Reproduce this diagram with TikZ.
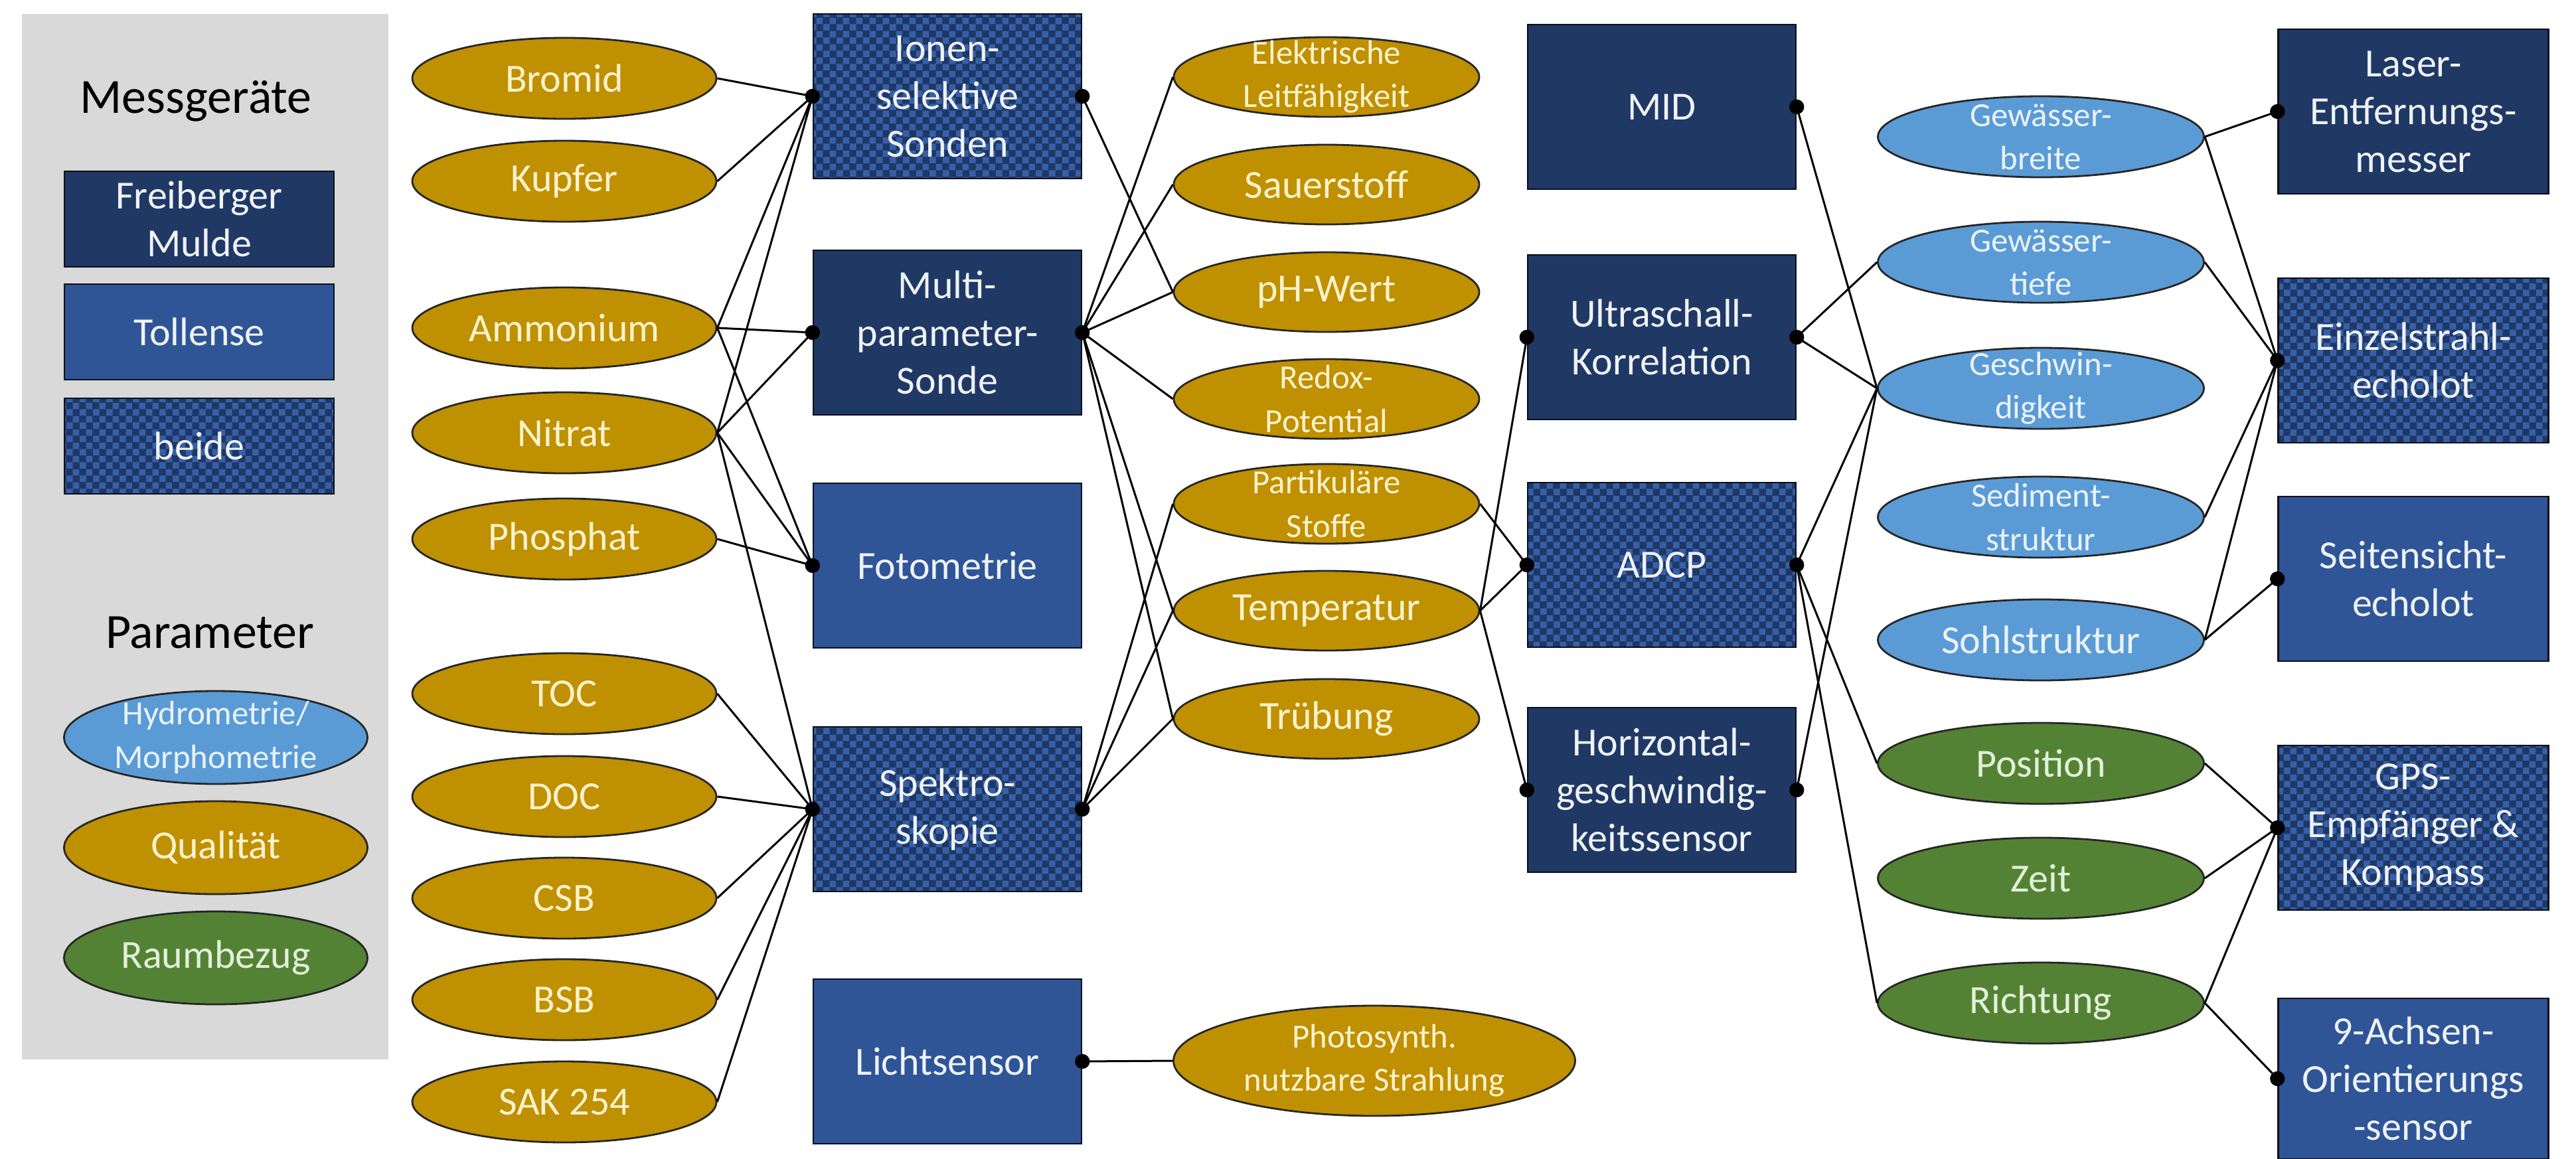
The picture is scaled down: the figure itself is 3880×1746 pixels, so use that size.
\documentclass[tikz,border=0pt]{standalone}
\usepackage{fontspec}
\setmainfont{Carlito}
\usetikzlibrary{shapes.geometric,patterns}
\pgfdeclarepatternformonly{chk}{\pgfpointorigin}{\pgfpoint{5pt}{5pt}}{\pgfpoint{5pt}{5pt}}{%
  \pgfpathrectangle{\pgfpointorigin}{\pgfpoint{2.5pt}{2.5pt}}%
  \pgfpathrectangle{\pgfpoint{2.5pt}{2.5pt}}{\pgfpoint{2.5pt}{2.5pt}}%
  \pgfusepath{fill}}
\definecolor{navy}{HTML}{203864}
\definecolor{tblue}{HTML}{2F5597}
\definecolor{chkA}{HTML}{1F3766}
\definecolor{chkB}{HTML}{3660A6}
\definecolor{gold}{HTML}{BF9000}
\definecolor{goldtxt}{HTML}{FFF2CC}
\definecolor{lblue}{HTML}{5B9BD5}
\definecolor{lbluetxt}{HTML}{E9F2FB}
\definecolor{grn}{HTML}{548235}
\definecolor{grntxt}{HTML}{E2F0D9}
\definecolor{legendgray}{HTML}{D9D9D9}
\definecolor{boxtxt}{HTML}{EEF2F9}
\tikzset{
  box/.style={draw=black!75!navy, line width=0.6pt, minimum width=101pt, minimum height=62pt,
    inner sep=0pt, align=center, text=boxtxt, font=\fontsize{15}{18}\selectfont},
  fm/.style={box, fill=navy},
  tol/.style={box, fill=tblue},
  both/.style={box, preaction={fill=chkA}, pattern=chk, pattern color=chkB},
  par/.style={ellipse, draw=black!85, line width=0.7pt, minimum width=114.5pt, minimum height=30.5pt, inner sep=0pt},
  qual/.style={par, fill=gold},
  hyd/.style={par, fill=lblue},
  raum/.style={par, fill=grn},
  ql/.style={align=center, text=goldtxt, font=\fontsize{15}{18}\selectfont},
  qs/.style={align=center, text=goldtxt, font=\fontsize{12.7}{16.3}\selectfont},
  hl/.style={align=center, text=lbluetxt, font=\fontsize{15}{18}\selectfont},
  hs/.style={align=center, text=lbluetxt, font=\fontsize{12.7}{16.3}\selectfont},
  rl/.style={align=center, text=grntxt, font=\fontsize{15}{18}\selectfont},
  head/.style={font=\fontsize{18.5}{22}\selectfont, text=black},
  link/.style={draw=black, line width=0.75pt},
}
\begin{document}
\begin{tikzpicture}[x=0.25pt, y=-0.25pt]
\useasboundingbox (0,0) rectangle (3880,1746);
\fill[white] (0,0) rectangle (3880,1746);
% legend
\fill[legendgray] (33,21) rectangle (585,1596);
\node[head] (hmess) at (295,152) {Messgeräte};
\node[fm, minimum width=101.5pt, minimum height=36pt] (lgfm) at (300,330) {Freiberger\\Mulde};
\node[tol, minimum width=101.5pt, minimum height=36pt] (lgtol) at (300,500) {Tollense};
\node[both, minimum width=101.5pt, minimum height=36pt] (lgboth) at (300,672) {beide};
\node[head] (hpar) at (316,953) {Parameter};
\node[hyd, minimum width=114.25pt, minimum height=35pt, label={[hs]center:{Hydrometrie/\\Morphometrie}}] (lghyd) at (325,1111) {};
\node[qual, minimum width=114.25pt, minimum height=35pt, label={[ql]center:Qualität}] (lgqual) at (325,1277) {};
\node[raum, minimum width=114.25pt, minimum height=35pt, label={[rl]center:Raumbezug}] (lgraum) at (325,1443) {};
% column 1
\node[qual, label={[ql]center:Bromid}] (bromid) at (850,118) {};
\node[qual, label={[ql]center:Kupfer}] (kupfer) at (850,273) {};
\node[qual, label={[ql]center:Ammonium}] (ammon) at (850,494) {};
\node[qual, label={[ql]center:Nitrat}] (nitrat) at (850,652) {};
\node[qual, label={[ql]center:Phosphat}] (phos) at (850,812) {};
\node[qual, label={[ql]center:TOC}] (toc) at (850,1045) {};
\node[qual, label={[ql]center:DOC}] (doc) at (850,1200) {};
\node[qual, label={[ql]center:CSB}] (csb) at (850,1353) {};
\node[qual, label={[ql]center:BSB}] (bsb) at (850,1506) {};
\node[qual, label={[ql]center:SAK 254}] (sak) at (850,1660) {};
% column 2
\node[both] (ionen) at (1427,145) {Ionen-\\selektive\\Sonden};
\node[fm] (multi) at (1427,501) {Multi-\\parameter-\\Sonde};
\node[tol] (foto) at (1427,852) {Fotometrie};
\node[both] (spektro) at (1427,1219) {Spektro-\\skopie};
\node[tol] (licht) at (1427,1599) {Lichtsensor};
% column 3
\node[qual, minimum width=115pt, minimum height=30pt, label={[qs]center:{Elektrische\\Leitfähigkeit}}] (elek) at (1998,116) {};
\node[qual, minimum width=115pt, minimum height=30pt, label={[ql]center:Sauerstoff}] (sauer) at (1998,278) {};
\node[qual, minimum width=115pt, minimum height=30pt, label={[ql]center:pH-Wert}] (ph) at (1998,440) {};
\node[qual, minimum width=115pt, minimum height=30pt, label={[qs]center:{Redox-\\Potential}}] (redox) at (1998,601) {};
\node[qual, minimum width=115pt, minimum height=30pt, label={[qs]center:{Partikuläre\\Stoffe}}] (part) at (1998,759) {};
\node[qual, minimum width=115pt, minimum height=30pt, label={[ql]center:Temperatur}] (temp) at (1998,920) {};
\node[qual, minimum width=115pt, minimum height=30pt, label={[ql]center:Trübung}] (trueb) at (1998,1083) {};
\node[qual, minimum width=151.25pt, minimum height=41.5pt, label={[qs]center:{Photosynth.\\nutzbare Strahlung}}] (photo) at (2070,1598) {};
% column 4
\node[fm] (mid) at (2503,161) {MID};
\node[fm] (ultra) at (2503,508) {Ultraschall-\\Korrelation};
\node[both] (adcp) at (2503,851) {ADCP};
\node[fm] (horiz) at (2503,1190) {Horizontal-\\geschwindig-\\keitssensor};
% column 5
\node[hyd, minimum width=122.75pt, label={[hs]center:{Gewässer-\\breite}}] (breite) at (3074,206) {};
\node[hyd, minimum width=122.75pt, label={[hs]center:{Gewässer-\\tiefe}}] (tiefe) at (3074,395) {};
\node[hyd, minimum width=122.75pt, label={[hs]center:{Geschwin-\\digkeit}}] (gesch) at (3074,585) {};
\node[hyd, minimum width=122.75pt, label={[hs]center:{Sediment-\\struktur}}] (sed) at (3074,779) {};
\node[hyd, minimum width=122.75pt, label={[hl]center:Sohlstruktur}] (sohl) at (3074,964) {};
\node[raum, minimum width=122.75pt, label={[rl]center:Position}] (pos) at (3074,1150) {};
\node[raum, minimum width=122.75pt, label={[rl]center:Zeit}] (zeit) at (3074,1323) {};
\node[raum, minimum width=122.75pt, label={[rl]center:Richtung}] (richt) at (3074,1511) {};
% column 6
\node[fm, minimum width=101.75pt] (laser) at (3635,168) {Laser-\\Entfernungs-\\messer};
\node[both, minimum width=101.75pt] (einzel) at (3635,543) {Einzelstrahl-\\echolot};
\node[tol, minimum width=101.75pt] (seiten) at (3635,872) {Seitensicht-\\echolot};
\node[both, minimum width=101.75pt] (gps) at (3635,1247) {GPS-\\Empfänger \&\\Kompass};
\node[tol, minimum width=101.75pt, minimum height=60.5pt] (achs) at (3635,1625) {9-Achsen-\\Orientierungs\\-sensor};
% connectors
\foreach \a/\b in {bromid/ionen, kupfer/ionen, ammon/ionen, nitrat/ionen, ammon/multi, nitrat/multi,
  ammon/foto, nitrat/foto, phos/foto, nitrat/spektro, toc/spektro, doc/spektro, csb/spektro, bsb/spektro, sak/spektro,
  temp/ultra, temp/adcp, temp/horiz, part/adcp,
  breite/laser, breite/einzel, tiefe/einzel, sed/einzel, sohl/einzel, sohl/seiten,
  pos/gps, zeit/gps, richt/gps, richt/achs}
  \draw[link] (\a.east) -- (\b.west);
\foreach \a/\b in {ionen/ph, multi/elek, multi/sauer, multi/ph, multi/redox, multi/temp, multi/trueb,
  spektro/part, spektro/temp, spektro/trueb, licht/photo,
  mid/gesch, ultra/tiefe, ultra/gesch, adcp/gesch, horiz/gesch, adcp/pos, adcp/richt}
  \draw[link] (\a.east) -- (\b.west);
% dots
\foreach \n in {ionen, multi, foto, spektro, ultra, adcp, horiz, laser, einzel, seiten, gps, achs}
  \fill (\n.west) circle[radius=2.8pt];
\foreach \n in {ionen, multi, spektro, licht, mid, ultra, adcp, horiz}
  \fill (\n.east) circle[radius=2.8pt];
\end{tikzpicture}
\end{document}
